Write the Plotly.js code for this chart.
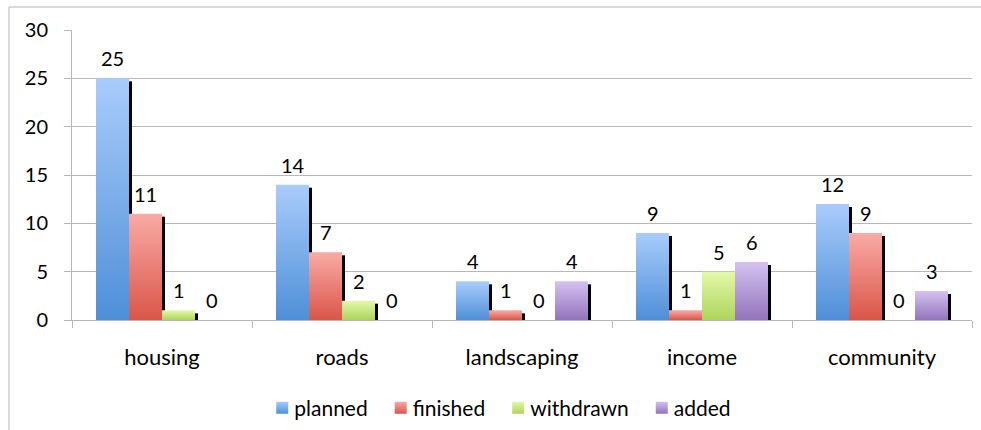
<!DOCTYPE html>
<html>
<head>
<meta charset="utf-8">
<script src="https://cdn.plot.ly/plotly-3.0.1.min.js"></script>
<style>
  html, body { margin: 0; padding: 0; background: #ffffff; }
  #chart { width: 981px; height: 430px; }
</style>
</head>
<body>
<div id="chart"></div>
<script>
// Project counts per area
const categories = ['housing', 'roads', 'landscaping', 'income', 'community'];
const seriesNames = ['planned', 'finished', 'withdrawn', 'added'];
const planned   = [25, 14, 4, 9, 12];
const finished  = [11, 7, 1, 1, 9];
const withdrawn = [1, 2, 0, 5, 0];
const added     = [0, 0, 4, 6, 3];
const yTicks = [0, 5, 10, 15, 20, 25, 30];

const seriesValues = [planned, finished, withdrawn, added];
// top / bottom colours of each series' vertical gradient
const gradTop    = ['#a9ccfb', '#f9aba6', '#e3f9ab', '#d4c3f0'];
const gradBottom = ['#4e8fd8', '#da5548', '#aed45c', '#9373bd'];
const flatColor  = ['#7aaeea', '#ea7f76', '#c8e784', '#b39bd8'];

const FONT = 'Lato, "Open Sans", sans-serif';
const W = 981, H = 430;
const M = { l: 72, r: 9, t: 30, b: 110 };
const plotW = W - M.l - M.r, plotH = H - M.t - M.b;
const yMax = 30;
const BARGAP = 0.2667;
const groupW = 1 - BARGAP;
const barW = groupW / seriesNames.length;
const pxX = plotW / categories.length;   // px per category unit
const pxY = plotH / yMax;                // px per value unit

const traces = seriesNames.map((name, j) => ({
  type: 'bar',
  name: name,
  x: categories,
  y: seriesValues[j],
  marker: { color: flatColor[j], line: { width: 0 } },
  hoverinfo: 'skip'
}));

// offset shadows at the right edge of each bar, plus value labels
const shapes = [];
const annotations = [];
seriesValues.forEach((vals, j) => {
  vals.forEach((v, i) => {
    const left = i - groupW / 2 + j * barW;
    const right = left + barW;
    const top = v - 3 / pxY;
    if (top > 0) {
      shapes.push({
        type: 'rect', xref: 'x', yref: 'y', layer: 'between',
        x0: right, x1: right + 3 / pxX, y0: 0, y1: top,
        fillcolor: '#000000', line: { width: 0 }
      });
    }
    annotations.push({
      xref: 'x', yref: 'y', x: left + barW / 2, y: v,
      text: String(v), showarrow: false,
      xanchor: 'center', yanchor: 'bottom', yshift: 6,
      font: { family: FONT, size: 20, color: '#000000' }
    });
  });
});

// outer chart frame
shapes.push({
  type: 'rect', xref: 'paper', yref: 'paper', layer: 'below',
  x0: (9 - M.l) / plotW, x1: 1.2, y0: -0.6, y1: 1 + (M.t - 7) / plotH,
  line: { color: '#b5b5b5', width: 1 }, fillcolor: 'rgba(0,0,0,0)'
});

const layout = {
  width: W, height: H,
  margin: M,
  paper_bgcolor: '#ffffff', plot_bgcolor: '#ffffff',
  barmode: 'group', bargap: BARGAP, bargroupgap: 0,
  showlegend: true,
  font: { family: FONT, size: 20, color: '#000000' },
  xaxis: {
    type: 'category', range: [-0.5, categories.length - 0.5],
    showgrid: false, showline: true, linecolor: '#b8b8b8', linewidth: 1,
    ticks: 'outside', tickson: 'boundaries', ticklen: 7, tickcolor: '#b8b8b8',
    ticklabelstandoff: 18,
    tickfont: { family: FONT, size: 22, color: '#000000' },
    fixedrange: true
  },
  yaxis: {
    range: [0, yMax], tickvals: yTicks, ticktext: yTicks.map(String),
    showgrid: true, gridcolor: '#b8b8b8', gridwidth: 1,
    zeroline: false, showline: true, linecolor: '#b8b8b8', linewidth: 1,
    ticks: 'outside', ticklen: 7, tickcolor: '#b8b8b8',
    ticklabelstandoff: 12,
    tickfont: { family: FONT, size: 20, color: '#000000' },
    fixedrange: true
  },
  legend: {
    orientation: 'h', xref: 'container', yref: 'container',
    x: 0.513, xanchor: 'center', y: 1 - 408 / H, yanchor: 'middle',
    font: { family: FONT, size: 21, color: '#000000' },
    itemclick: false, itemdoubleclick: false, traceorder: 'normal'
  },
  shapes: shapes,
  annotations: annotations
};

function applyGradients(gd) {
  const svg = gd.querySelector('svg.main-svg');
  const ns = 'http://www.w3.org/2000/svg';
  let defs = svg.querySelector('defs');
  if (!defs) { defs = document.createElementNS(ns, 'defs'); svg.insertBefore(defs, svg.firstChild); }
  seriesNames.forEach((name, j) => {
    const g = document.createElementNS(ns, 'linearGradient');
    g.setAttribute('id', 'barGrad' + j);
    g.setAttribute('x1', '0'); g.setAttribute('y1', '0');
    g.setAttribute('x2', '0'); g.setAttribute('y2', '1');
    [[0, gradTop[j]], [1, gradBottom[j]]].forEach(([off, col]) => {
      const s = document.createElementNS(ns, 'stop');
      s.setAttribute('offset', off);
      s.setAttribute('stop-color', col);
      g.appendChild(s);
    });
    defs.appendChild(g);
  });
  gd.querySelectorAll('.barlayer .trace').forEach((tr, j) => {
    tr.querySelectorAll('.point path').forEach(p => { p.style.fill = 'url(#barGrad' + j + ')'; });
  });
  gd.querySelectorAll('.legend .traces').forEach((tr, j) => {
    tr.querySelectorAll('.legendpoints path').forEach(p => { p.style.fill = 'url(#barGrad' + j + ')'; p.style.stroke = 'none'; });
    // tighter gap between swatch and label
    tr.querySelectorAll('text.legendtext').forEach(t => { t.setAttribute('x', '32'); });
  });
}

Plotly.newPlot('chart', traces, layout, { staticPlot: true, displayModeBar: false })
  .then(applyGradients);
</script>
</body>
</html>
